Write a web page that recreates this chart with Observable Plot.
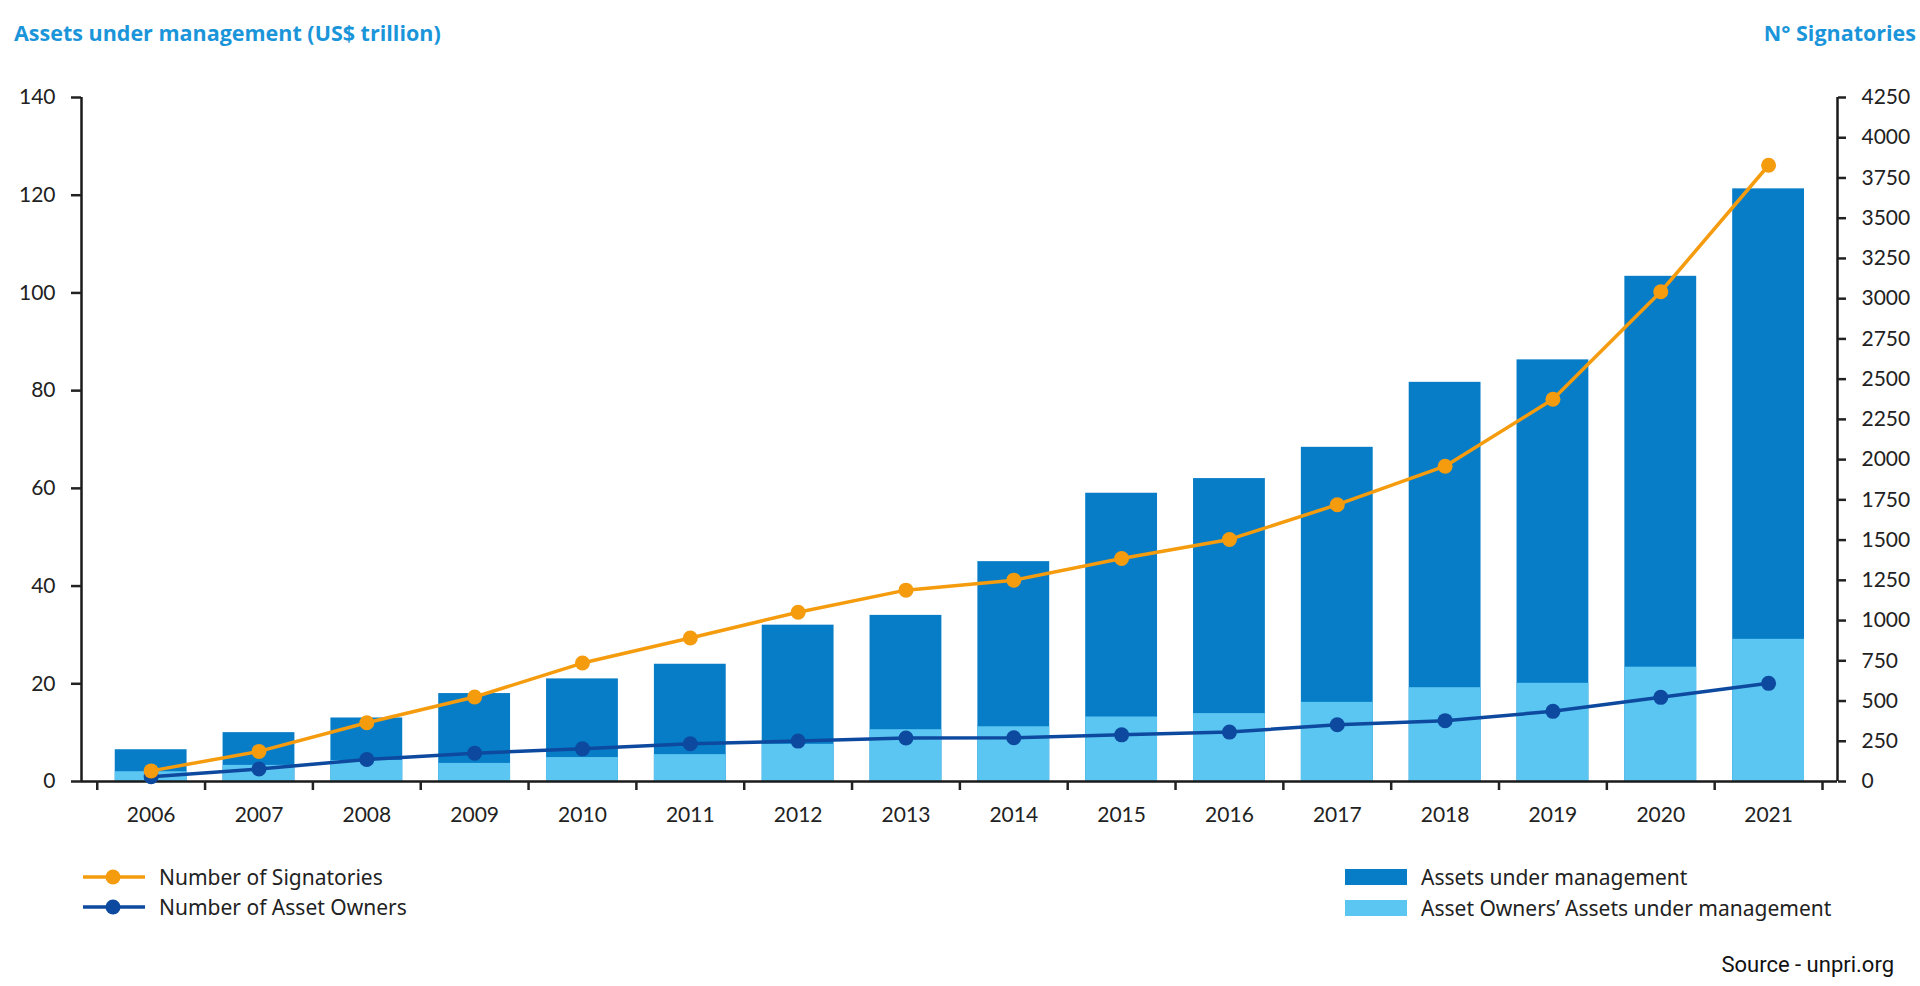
<!DOCTYPE html>
<html>
<head>
<meta charset="utf-8">
<script src="https://cdn.jsdelivr.net/npm/d3@7"></script>
<script src="https://cdn.jsdelivr.net/npm/@observablehq/plot@0.6"></script>
<style>
  body { margin: 0; background: #fff; }
  #page { position: relative; width: 1920px; height: 986px; overflow: hidden; }
  .head { position: absolute; top: 19px; font-family: "Open Sans", sans-serif; font-weight: 700; font-size: 21.5px; color: #1b95d9; line-height: 28px; }
  #chart { position: absolute; left: 0; top: 60px; }
  .leg { position: absolute; font-family: "Noto Sans", sans-serif; font-size: 21px; color: #222; line-height: 28px; display: flex; align-items: center; }
  .leg svg, .leg span.sw { margin-right: 14px; }
  .sw { display: inline-block; width: 62px; height: 16px; }
  #source { position: absolute; right: 26px; top: 952px; font-family: Roboto, sans-serif; font-size: 22px; color: #111; }
</style>
</head>
<body>
<div id="page">
  <div class="head" style="left:14px">Assets under management (US$ trillion)</div>
  <div class="head" style="right:4px">N° Signatories</div>
  <div id="chart"></div>
  <div class="leg" style="left:83px; top:863px">
    <svg width="62" height="18"><line x1="0" x2="62" y1="9" y2="9" stroke="#f59b0e" stroke-width="3.5"/><circle cx="30" cy="9" r="7.5" fill="#f59b0e"/></svg>Number of Signatories</div>
  <div class="leg" style="left:83px; top:893px">
    <svg width="62" height="18"><line x1="0" x2="62" y1="9" y2="9" stroke="#0d4a9f" stroke-width="3.5"/><circle cx="30" cy="9" r="7.5" fill="#0d4a9f"/></svg>Number of Asset Owners</div>
  <div class="leg" style="left:1345px; top:863px"><span class="sw" style="background:#077dc8"></span>Assets under management</div>
  <div class="leg" style="left:1345px; top:894px"><span class="sw" style="background:#5bc6f1"></span>Asset Owners’ Assets under management</div>
  <div id="source">Source - unpri.org</div>
</div>
<script>
const years = [2006, 2007, 2008, 2009, 2010, 2011, 2012, 2013, 2014, 2015, 2016, 2017, 2018, 2019, 2020, 2021];
// US$ trillion
const aum = [6.5, 10, 13, 18, 21, 24, 32, 34, 45, 59, 62, 68.4, 81.7, 86.3, 103.4, 121.3];
const ownersAum = [2, 3.3, 4.3, 3.7, 4.9, 5.5, 7.6, 10.6, 11.2, 13.2, 13.9, 16.2, 19.2, 20.1, 23.4, 29.1];
// counts
const signatories = [66, 187, 365, 525, 736, 892, 1052, 1189, 1251, 1386, 1504, 1720, 1959, 2375, 3043, 3829];
const owners = [30, 78, 137, 176, 203, 235, 251, 270, 272, 290, 307, 353, 378, 436, 523, 610];

const aumTicks = d3.range(0, 141, 20);
const sigTicks = d3.range(0, 4251, 250);

// right axis (signatories) shares the left scale: 4250 sits at 140
const toLeft = v => v * 140 / 4250;

const table = years.map((year, i) => ({
  year,
  aum: aum[i],
  ownersAum: ownersAum[i],
  sig: toLeft(signatories[i]),
  own: toLeft(owners[i])
}));

const xDomain = [2005.354, 2021.639];
const bandEdges = d3.range(2005.5, 2022, 1);

const chart = Plot.plot({
  width: 1920,
  height: 780,
  marginTop: 37,
  marginBottom: 59,
  marginLeft: 81,
  marginRight: 83,
  style: {fontFamily: "Lato, sans-serif", fontSize: "21px", color: "#222", background: "white", overflow: "visible"},
  x: {domain: xDomain},
  y: {domain: [0, 140]},
  marks: [
    Plot.rectY(table, {x1: d => d.year - 0.5, x2: d => d.year + 0.5, y: "aum", fill: "#077dc8", insetLeft: 18, insetRight: 18}),
    Plot.rectY(table, {x1: d => d.year - 0.5, x2: d => d.year + 0.5, y: "ownersAum", fill: "#5bc6f1", insetLeft: 18, insetRight: 18}),
    Plot.ruleY([0], {stroke: "#1a1a1a", strokeWidth: 2.5}),
    Plot.ruleX(xDomain, {stroke: "#1a1a1a", strokeWidth: 2.5}),
    Plot.axisY({anchor: "left", ticks: aumTicks, tickSize: 10, tickPadding: 16, strokeWidth: 2.5, label: null}),
    Plot.axisY({anchor: "right", ticks: sigTicks.map(toLeft), tickFormat: d => String(Math.round(d * 4250 / 140)), tickSize: 8, tickPadding: 16, strokeWidth: 2.5, label: null}),
    Plot.axisX({ticks: bandEdges, tickFormat: () => "", tickSize: 9, strokeWidth: 2.5, label: null}),
    Plot.axisX({ticks: years, tickFormat: d => String(d), tickSize: 0, tickPadding: 26, label: null}),
    Plot.line(table, {x: "year", y: "own", stroke: "#0d4a9f", strokeWidth: 3.5}),
    Plot.dot(table, {x: "year", y: "own", r: 7.5, fill: "#0d4a9f"}),
    Plot.line(table, {x: "year", y: "sig", stroke: "#f59b0e", strokeWidth: 3.5}),
    Plot.dot(table, {x: "year", y: "sig", r: 7.5, fill: "#f59b0e"})
  ]
});

document.getElementById("chart").append(chart);
</script>
</body>
</html>
